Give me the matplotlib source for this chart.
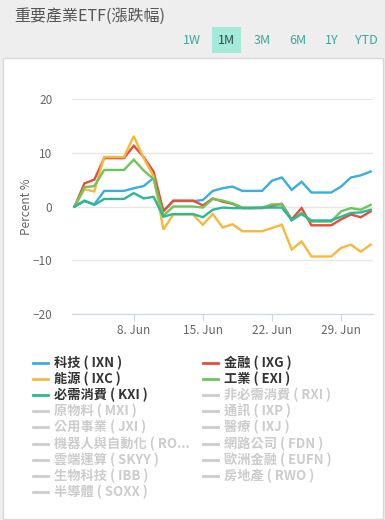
import pandas as pd
import matplotlib.pyplot as plt
import matplotlib.dates as mdates
from matplotlib.lines import Line2D
from matplotlib.patches import Rectangle

plt.rcParams['font.family'] = ['Noto Sans CJK TC', 'DejaVu Sans']

# daily % change since 2 Jun
DATES = pd.date_range("2020-06-02", "2020-07-02", freq="D")

IXN = [0, 1.0, 0.4, 2.9, 2.9, 2.9, 3.4, 3.8, 5.3, -0.8, 1.0, 1.0, 1.0, 1.2, 2.9, 3.4,
       3.7, 2.9, 2.9, 2.9, 4.8, 5.4, 3.1, 4.6, 2.6, 2.6, 2.6, 3.7, 5.4, 5.8, 6.5]
IXG = [0, 4.3, 5.0, 9.0, 9.0, 9.0, 11.3, 9.2, 6.5, -0.9, 1.1, 1.1, 1.1, 0.2, 1.5, 0.9,
       0.5, -0.3, -0.3, -0.3, 0.1, 0.5, -2.4, -0.3, -3.5, -3.5, -3.5, -2.4, -1.5, -2.0, -0.9]
IXC = [0, 3.2, 2.8, 9.2, 9.2, 9.2, 13.1, 9.0, 5.6, -4.3, -1.5, -1.5, -1.5, -3.4, -1.4, -3.9,
       -3.3, -4.6, -4.6, -4.6, -4.0, -3.4, -8.0, -6.5, -9.3, -9.3, -9.3, -7.7, -7.1, -8.4, -7.1]
EXI = [0, 3.6, 3.8, 6.8, 6.8, 6.8, 8.7, 6.7, 5.1, -1.7, 0, 0, 0, -0.2, 1.4, 1.1,
       0.6, -0.2, -0.2, -0.2, 0.4, 0.4, -2.6, -1.2, -2.8, -2.8, -2.8, -0.9, -0.3, -0.6, 0.3]
KXI = [0, 1.1, 0.3, 1.4, 1.4, 1.4, 2.5, 1.5, 1.8, -1.9, -1.4, -1.4, -1.4, -2.0, -0.6, -0.2,
       -0.3, -0.3, -0.3, -0.2, -0.2, -0.2, -2.5, -1.4, -2.6, -2.6, -2.6, -1.9, -1.2, -1.1, -0.6]

SHOWN = [
    ("科技 ( IXN )", IXN, "#3aaee0"),
    ("金融 ( IXG )", IXG, "#e84c3d"),
    ("能源 ( IXC )", IXC, "#f8b93b"),
    ("工業 ( EXI )", EXI, "#6cc65a"),
    ("必需消費 ( KXI )", KXI, "#2bb896"),
]
HIDDEN = ["非必需消費 ( RXI )", "原物料 ( MXI )", "通訊 ( IXP )", "公用事業 ( JXI )",
          "醫療 ( IXJ )", "機器人與自動化 ( RO...", "網路公司 ( FDN )", "雲端運算 ( SKYY )",
          "歐洲金融 ( EUFN )", "生物科技 ( IBB )", "房地產 ( RWO )", "半導體 ( SOXX )"]
PERIODS = ["1W", "1M", "3M", "6M", "1Y", "YTD"]
ACTIVE = "1M"

W, H = 385, 520
fig = plt.figure(figsize=(W / 100, H / 100), dpi=100, facecolor="#eeeeee")

# white card
fig.add_artist(Rectangle((3 / W, 1 - 519 / H), 380 / W, 461 / H, transform=fig.transFigure,
                         facecolor="white", edgecolor="#d8d8d8", lw=1, zorder=-10))

fig.text(14 / W, 1 - 16 / H, "重要產業ETF(漲跌幅)", fontsize=11.5, color="#555555", va="center")

# period buttons
btn_x = [192, 226, 262, 298, 332, 366]
for lab, bx in zip(PERIODS, btn_x):
    if lab == ACTIVE:
        fig.add_artist(Rectangle(((bx - 14.5) / W, 1 - 52.5 / H), 29.5 / W, 25.5 / H,
                                 transform=fig.transFigure, facecolor="#a3ead9", edgecolor="none",
                                 zorder=-5))
    fig.text(bx / W, 1 - 41 / H, lab, fontsize=9, ha="center", va="center",
             color="#2e4d4a" if lab == ACTIVE else "#3aa89a")

ax = fig.add_axes([71.7 / W, 1 - 314 / H, 301 / W, 215 / H])
ax.patch.set_alpha(0)
for name, vals, col in SHOWN:
    ax.plot(DATES, vals, color=col, lw=1.7, solid_joinstyle="miter")

ax.set_ylim(-20, 20)
ax.set_yticks([-20, -10, 0, 10, 20])
ax.set_xlim(DATES[0] - pd.Timedelta(hours=7), DATES[-1] + pd.Timedelta(hours=5))
ax.xaxis.set_major_locator(mdates.WeekdayLocator(byweekday=mdates.MO))
ax.xaxis.set_major_formatter(mdates.DateFormatter("%-d. %b"))
ax.grid(axis="y", color="#e6e6e6", lw=1)
ax.set_axisbelow(True)
for s in ["top", "right", "left"]:
    ax.spines[s].set_visible(False)
ax.spines["bottom"].set_color("#ccd6eb")
ax.tick_params(axis="y", length=0, labelsize=8.5, labelcolor="#666666", pad=14)
ax.tick_params(axis="x", length=5, color="#ccd6eb", labelsize=8.5, labelcolor="#666666", pad=2)
ax.set_ylabel("Percent %", fontsize=8.5, color="#666666", labelpad=0)

# legend
rows_y = [363 + 16.1 * i for i in range(9)]
entries = []
for i, (name, vals, col) in enumerate(SHOWN):
    entries.append((name, col, "#333333"))
entries += [(n, "#cccccc", "#cccccc") for n in HIDDEN]
for k, (name, lcol, tcol) in enumerate(entries):
    col_i, row_i = k % 2, k // 2
    x0 = 33 if col_i == 0 else 203
    y = 1 - rows_y[row_i] / H
    fig.add_artist(Line2D([x0 / W, (x0 + 15) / W], [y, y], transform=fig.transFigure,
                          color=lcol, lw=2))
    fig.text((x0 + 21) / W, y, name, fontsize=9.5, fontweight="bold", color=tcol, va="center")

fig.savefig("out.png", dpi=100, facecolor=fig.get_facecolor())
